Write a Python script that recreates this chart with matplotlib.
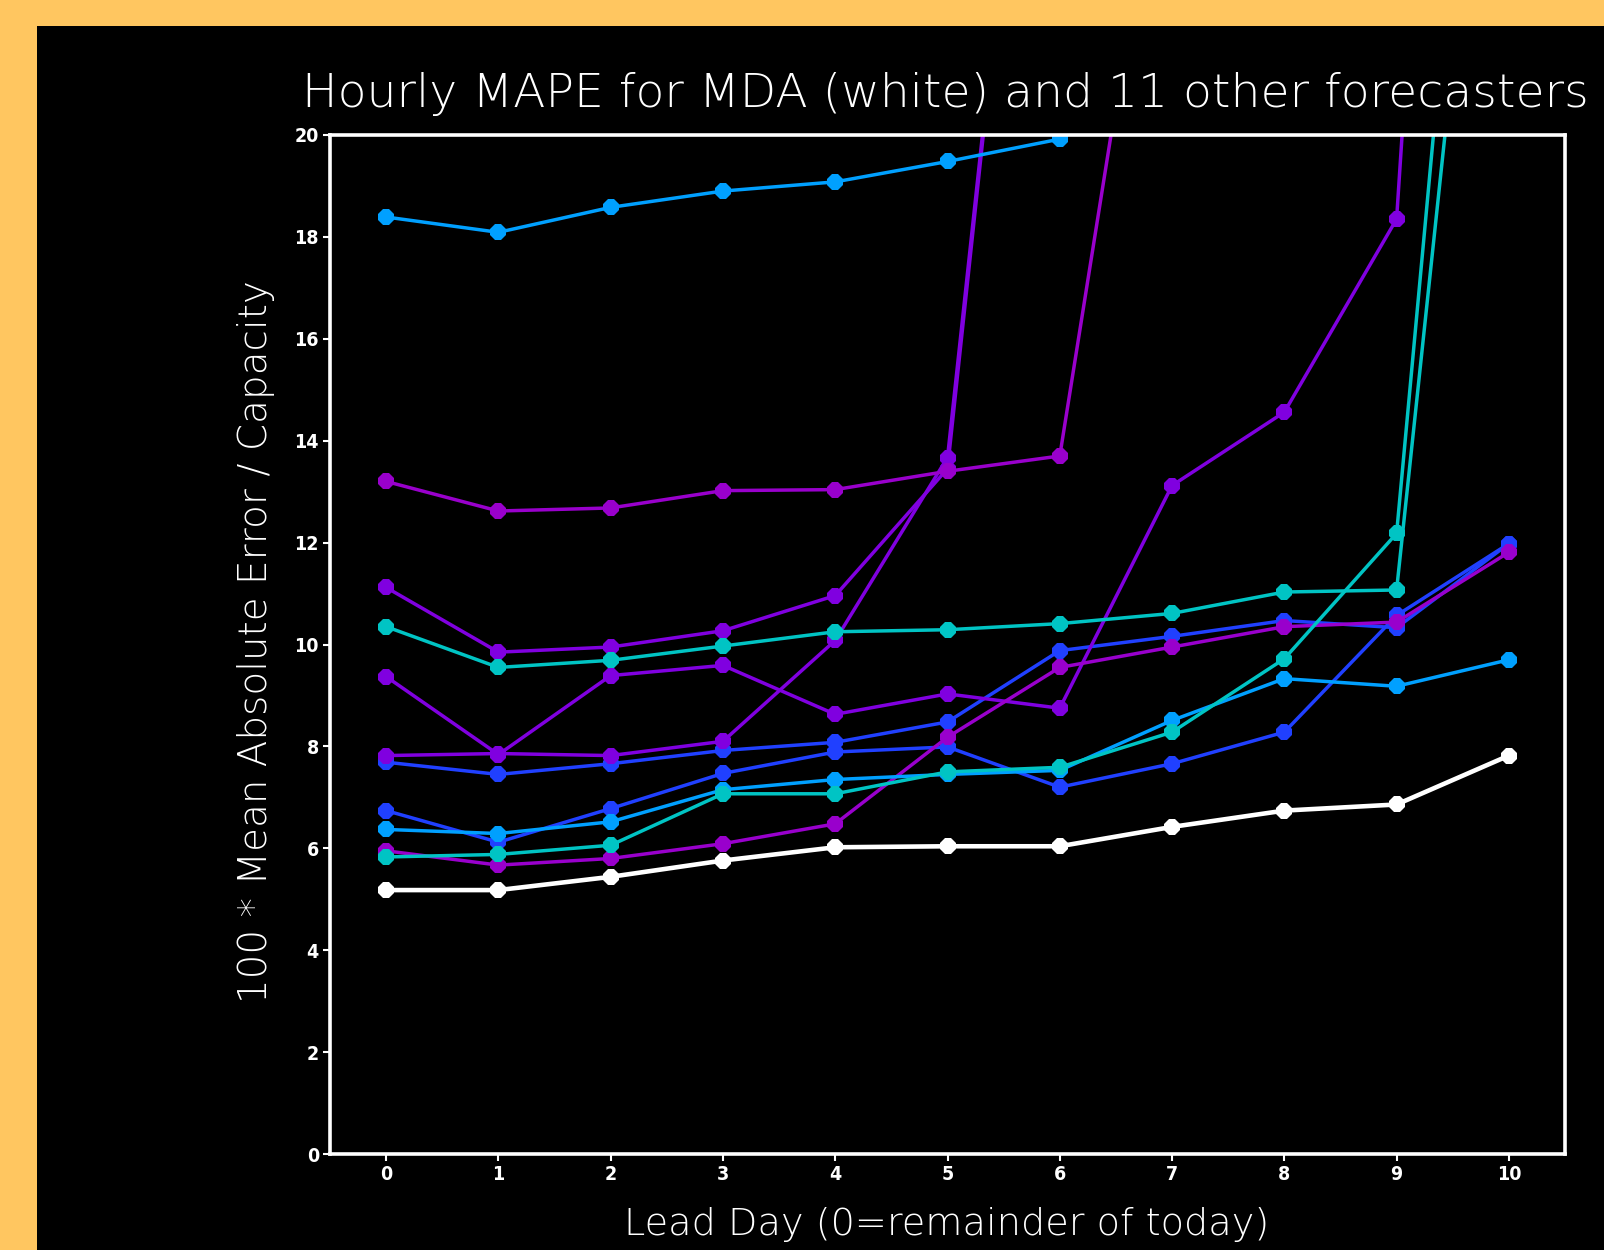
import matplotlib
matplotlib.use("Agg")
import matplotlib.pyplot as plt
from matplotlib.patches import Rectangle

days = list(range(11))

mda = [5.18, 5.18, 5.44, 5.76, 6.02, 6.04, 6.04, 6.42, 6.74, 6.86, 7.82]
sky_a = [18.39, 18.09, 18.58, 18.90, 19.08, 19.48, 19.92, 45.0, 46.0, 47.0, 48.0]
purple_a = [13.20, 12.62, 12.68, 13.02, 13.04, 13.40, 13.70, 27.5, 30.0, 32.0, 35.0]
violet_a = [11.12, 9.85, 9.95, 10.27, 10.96, 13.45, 34.0, 36.0, 38.0, 40.0, 42.0]
teal_a = [10.35, 9.55, 9.69, 9.97, 10.25, 10.29, 10.41, 10.61, 11.03, 11.07, 31.8]
violet_b = [9.37, 7.84, 9.39, 9.59, 8.63, 9.03, 8.75, 13.12, 14.56, 18.35, 52.0]
violet_c = [7.82, 7.86, 7.82, 8.10, 10.08, 13.67, 34.0, 36.0, 38.0, 40.0, 42.0]
blue_a = [7.69, 7.45, 7.66, 7.92, 8.08, 8.48, 9.88, 10.16, 10.47, 10.33, 11.98]
blue_b = [6.74, 6.12, 6.78, 7.47, 7.89, 7.99, 7.20, 7.66, 8.28, 10.57, 11.98]
sky_b = [6.37, 6.29, 6.52, 7.15, 7.35, 7.45, 7.53, 8.51, 9.33, 9.18, 9.70]
teal_b = [5.83, 5.88, 6.06, 7.07, 7.07, 7.50, 7.59, 8.28, 9.72, 12.18, 36.0]
purple_b = [5.95, 5.67, 5.80, 6.09, 6.48, 8.18, 9.55, 9.95, 10.35, 10.44, 11.81]

yticks = list(range(0, 21, 2))

PURPLE = "#9900CC"
VIOLET = "#8000E0"
BLUE = "#2040FF"
SKY = "#00A0FF"
TEAL = "#00C4C4"

series = [
    (blue_a, BLUE), (blue_b, BLUE),
    (violet_a, VIOLET), (violet_b, VIOLET), (violet_c, VIOLET),
    (purple_a, PURPLE), (purple_b, PURPLE),
    (sky_a, SKY), (sky_b, SKY),
    (teal_a, TEAL), (teal_b, TEAL),
]

W, H = 1604, 1250
fig = plt.figure(figsize=(W / 100, H / 100), dpi=100)
fig.patch.set_facecolor("#FFC660")
fig.patches.append(Rectangle((37 / W, 0), 1 - 37 / W, 1 - 26 / H,
                             transform=fig.transFigure, facecolor="black",
                             edgecolor="none", zorder=-5))

ax = fig.add_axes([330 / W, (H - 1154) / H, (1565 - 330) / W, (1154 - 135) / H])
ax.set_facecolor("black")
ax.set_zorder(2)

for vals, col in series:
    ax.plot(days, vals, color=col, lw=2.5, marker="8", ms=13, mew=0)
ax.plot(days, mda, color="white", lw=3.3, marker="8", ms=13, mew=0)

ax.set_xlim(-0.5, 10.5)
ax.set_ylim(0, 20)
ax.set_xticks(days)
ax.set_yticks(yticks)
ax.set_xticklabels([str(d) for d in days], fontsize=14, fontweight="bold",
                   color="white", fontstretch="condensed")
ax.set_yticklabels([str(v) for v in yticks], fontsize=14, fontweight="bold",
                   color="white", fontstretch="condensed")
ax.tick_params(axis="both", colors="white", width=1.5, length=5, direction="out", pad=3)
for sp in ax.spines.values():
    sp.set_color("white")
    sp.set_linewidth(2.6)

fig.text(945 / W, 1 - 94 / H, "Hourly MAPE for MDA (white) and 11 other forecasters",
         ha="center", va="center", color="white", fontsize=34, fontweight="light")
fig.text(947 / W, 1 - 1225 / H, "Lead Day (0=remainder of today)",
         ha="center", va="center", color="white", fontsize=27.5, fontweight="light")
fig.text(256 / W, 1 - 642 / H, "100 * Mean Absolute Error / Capacity",
         ha="center", va="center", color="white", fontsize=28, rotation=90,
         fontweight="light")

fig.savefig("out.png", dpi=100, facecolor=fig.get_facecolor())
